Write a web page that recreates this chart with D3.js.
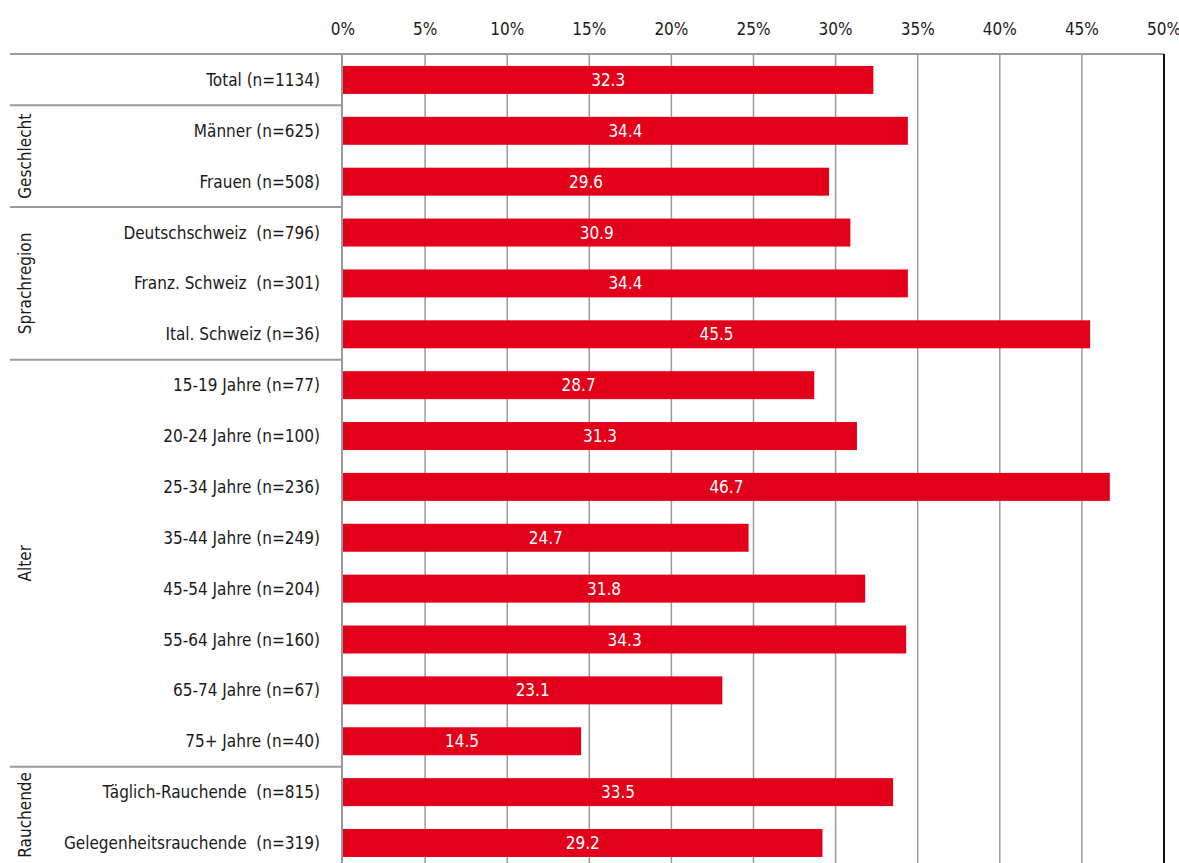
<!DOCTYPE html>
<html>
<head>
<meta charset="utf-8">
<script src="https://cdn.jsdelivr.net/npm/d3@7"></script>
<style>
  body { margin: 0; background: #fff; }
  text { font-family: "Liberation Sans Narrow", "Arial Narrow", "DejaVu Sans Condensed", sans-serif; font-size: 17px; fill: #1a1a1a; }
  .val { fill: #fff; }
</style>
</head>
<body>
<svg id="chart"></svg>
<script>
var width = 1179, height = 863;
var margin = {top: 54, right: 15, bottom: 0, left: 343};

var categories = ["Total (n=1134)", "Männer (n=625)", "Frauen (n=508)",
  "Deutschschweiz  (n=796)", "Franz. Schweiz  (n=301)", "Ital. Schweiz (n=36)",
  "15-19 Jahre (n=77)", "20-24 Jahre (n=100)", "25-34 Jahre (n=236)", "35-44 Jahre (n=249)",
  "45-54 Jahre (n=204)", "55-64 Jahre (n=160)", "65-74 Jahre (n=67)", "75+ Jahre (n=40)",
  "Täglich-Rauchende  (n=815)", "Gelegenheitsrauchende  (n=319)"];
var values = [32.3, 34.4, 29.6, 30.9, 34.4, 45.5, 28.7, 31.3, 46.7, 24.7, 31.8, 34.3, 23.1, 14.5, 33.5, 29.2];
// group name, first row index, last row index
var groups = [["", 0, 0], ["Geschlecht", 1, 2], ["Sprachregion", 3, 5], ["Alter", 6, 13], ["Rauchende", 14, 15]];
var ticks = [0, 5, 10, 15, 20, 25, 30, 35, 40, 45, 50];

var svg = d3.select("#chart").attr("width", width).attr("height", height);

var x = d3.scaleLinear().domain([0, 50]).range([margin.left, 1164]);
var y = d3.scaleBand().domain(d3.range(categories.length))
    .range([margin.top + 0.5, margin.top + 0.5 + 50.87 * categories.length])
    .paddingInner(0.45).paddingOuter(0.225);

// gridlines
svg.append("g").selectAll("line").data(ticks.slice(1, -1)).enter().append("line")
    .attr("x1", d => x(d)).attr("x2", d => x(d))
    .attr("y1", margin.top).attr("y2", height)
    .attr("stroke", "#9a9a9a").attr("stroke-width", 1.5);

// top axis labels
svg.append("g").selectAll("text").data(ticks).enter().append("text")
    .attr("x", d => x(d)).attr("y", 35)
    .attr("text-anchor", "middle")
    .text(d => d + "%");

// bars
svg.append("g").selectAll("rect").data(values).enter().append("rect")
    .attr("x", x(0)).attr("y", (d, i) => y(i))
    .attr("width", d => x(d) - x(0)).attr("height", y.bandwidth())
    .attr("fill", "#e2001a");

svg.append("g").selectAll("text").data(values).enter().append("text")
    .attr("class", "val")
    .attr("x", d => (x(0) + x(d)) / 2).attr("y", (d, i) => y(i) + y.bandwidth() / 2 + 6)
    .attr("text-anchor", "middle")
    .text(d => d.toFixed(1));

// category labels
svg.append("g").selectAll("text").data(categories).enter().append("text")
    .attr("x", 320).attr("y", (d, i) => y(i) + y.bandwidth() / 2 + 6)
    .attr("text-anchor", "end")
    .style("white-space", "pre")
    .text(d => d);

// frame: top line, left axis, right border
svg.append("line").attr("x1", 10).attr("x2", x(50)).attr("y1", margin.top).attr("y2", margin.top)
    .attr("stroke", "#9a9a9a").attr("stroke-width", 2);
svg.append("line").attr("x1", x(0) - 1).attr("x2", x(0) - 1).attr("y1", margin.top).attr("y2", height)
    .attr("stroke", "#9a9a9a").attr("stroke-width", 2);
svg.append("line").attr("x1", x(50)).attr("x2", x(50)).attr("y1", margin.top).attr("y2", height)
    .attr("stroke", "#111").attr("stroke-width", 2);

// group separators and rotated group labels
var step = y.step();
groups.forEach(function(g, k) {
  var top = y(g[1]) - (step - y.bandwidth()) / 2;
  var bottom = Math.min(y(g[2]) + y.bandwidth() + (step - y.bandwidth()) / 2, height);
  if (k < groups.length - 1) {
    svg.append("line").attr("x1", 10).attr("x2", x(0) - 1)
        .attr("y1", bottom).attr("y2", bottom)
        .attr("stroke", "#9a9a9a").attr("stroke-width", 2);
  }
  if (g[0]) {
    var cy = (top + bottom) / 2;
    svg.append("text")
        .attr("transform", "translate(31," + cy + ") rotate(-90)")
        .attr("text-anchor", "middle")
        .text(g[0]);
  }
});
</script>
</body>
</html>
